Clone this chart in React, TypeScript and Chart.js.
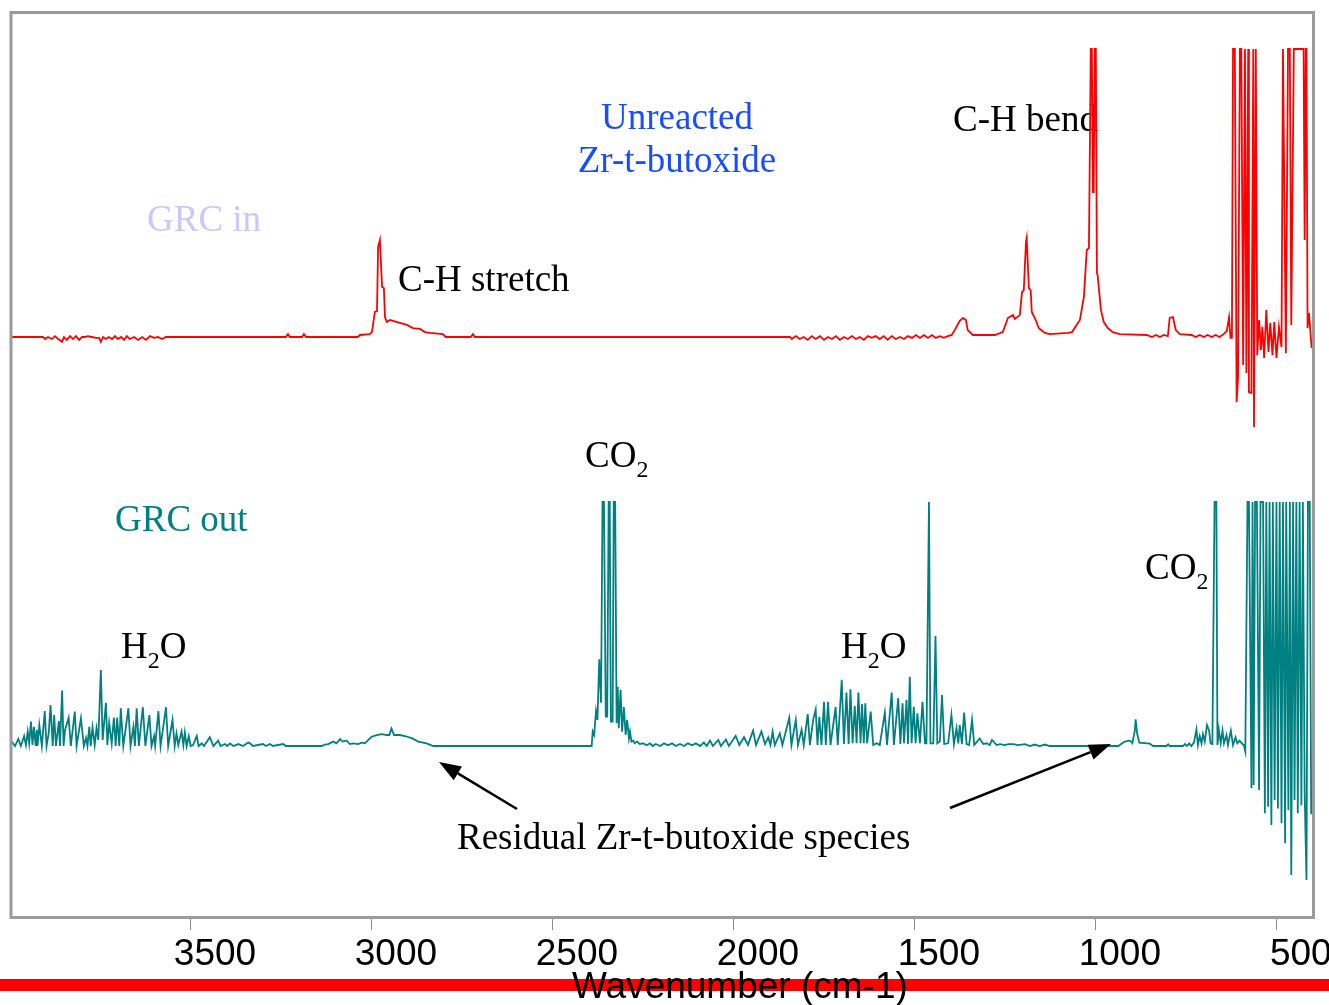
import { useEffect, useRef } from "react";
import { Chart, registerables } from "chart.js";

Chart.register(...registerables);

// x axis (wavenumber, cm-1), reversed
const xMin = 400;
const xMax = 4000;
const tickValues = [3500, 3000, 2500, 2000, 1500, 1000, 500];

// GRC in spectrum: [wavenumber, absorbance (offset trace, 1 = clipped top)]
const grcIn: [number, number][] = [
  [4000, 0], [3909, 0], [3903, -0.007], [3895, 0], [3884, -0.007], [3876, 0.003], [3867, -0.007], [3856, -0.017],
  [3851, 0], [3843, -0.01], [3834, 0.003], [3826, -0.007], [3818, 0.003], [3809, -0.01], [3801, 0], [3793, 0],
  [3785, 0.003], [3774, 0], [3762, -0.003], [3754, -0.003], [3749, -0.017], [3743, 0], [3735, -0.007], [3727, 0],
  [3718, -0.007], [3710, 0.003], [3702, -0.007], [3693, 0], [3685, -0.01], [3677, 0.003], [3669, -0.007], [3657, 0],
  [3646, -0.01], [3635, 0], [3624, -0.01], [3613, 0.003], [3602, -0.003], [3591, 0], [3580, -0.007], [3569, 0],
  [3238, 0], [3232, 0.01], [3227, 0], [3193, 0], [3188, 0.01], [3182, 0], [3039, 0], [3033, 0.007], [3006, 0.01],
  [3000, 0.017], [2992, 0.087], [2986, 0.09], [2983, 0.313], [2978, 0.337], [2972, 0.174], [2967, 0.17], [2964, 0.069],
  [2959, 0.052], [2950, 0.059], [2942, 0.056], [2923, 0.049], [2903, 0.042], [2887, 0.031], [2867, 0.028], [2854, 0.017],
  [2840, 0.014], [2804, 0.01], [2796, 0], [2727, 0], [2721, 0.01], [2716, 0], [1845, 0],
  [1840, -0.007], [1829, 0.003], [1818, -0.007], [1807, 0], [1796, -0.01], [1785, 0.003], [1774, -0.007], [1762, 0.003],
  [1751, -0.01], [1740, 0], [1729, -0.007], [1718, 0.003], [1707, -0.01], [1696, 0], [1685, -0.007], [1674, 0.003],
  [1663, -0.007], [1652, 0], [1641, -0.01], [1630, 0.003], [1619, -0.003], [1608, 0.003], [1597, -0.007], [1586, 0.003],
  [1575, -0.01], [1564, 0.003], [1553, -0.007], [1541, 0], [1530, -0.007], [1519, 0.003], [1508, -0.003], [1497, 0.007],
  [1486, -0.003], [1475, 0.007], [1464, -0.003], [1453, 0.007], [1442, -0.003], [1431, 0.003], [1420, -0.003], [1409, 0.003],
  [1398, 0.007], [1390, 0.024], [1376, 0.056], [1367, 0.066], [1359, 0.059], [1354, 0.024], [1340, 0.007], [1279, 0.007],
  [1257, 0.017], [1243, 0.066], [1229, 0.076], [1224, 0.063], [1210, 0.076], [1204, 0.156], [1199, 0.163], [1193, 0.33],
  [1191, 0.344], [1185, 0.17], [1180, 0.163], [1177, 0.087], [1166, 0.059], [1158, 0.031], [1141, 0.014], [1127, 0.01],
  [1077, 0.014], [1066, 0.017], [1044, 0.059], [1033, 0.139], [1025, 0.302], [1019, 0.309], [1014, 1], [1011, 1],
  [1008, 0.503], [1006, 0.503], [1003, 1], [1000, 1], [997, 0.222], [995, 0.215], [986, 0.094], [978, 0.052],
  [967, 0.031], [953, 0.017], [934, 0.01], [859, 0.007], [845, 0], [834, 0.007], [823, 0], [812, 0.007], [801, 0.003],
  [796, 0.066], [787, 0.069], [779, 0.024], [768, 0.01], [735, 0.007], [724, 0], [713, 0.007], [702, 0], [691, 0.007],
  [680, 0], [669, 0.007], [658, 0], [647, 0.01], [638, 0.021], [632, 0.069], [628, -0.003], [624, -0.003], [621, 1],
  [616, 1], [611, -0.226], [607, -0.139], [602, 1], [598, 1], [593, -0.097], [588, 1], [584, -0.125], [579, 1],
  [577, -0.191], [570, -0.194], [565, 1], [563, -0.313], [558, 1], [554, -0.063], [549, 0.059], [544, -0.045],
  [540, 0.035], [535, -0.073], [529, 0.094], [523, -0.052], [518, 0.049], [512, -0.063], [507, 0.052], [501, -0.073],
  [494, 0.035], [487, -0.035], [483, 1], [475, -0.056], [469, 1], [464, 1], [460, 0.042], [453, 1], [426, 1],
  [423, 0.337], [420, 1], [418, 1], [415, 0.031], [411, 0.083], [404, -0.035], [400, -0.035],
];

// GRC out spectrum: [wavenumber, absorbance (offset trace, 1 = clipped top)]
const grcOut: [number, number][] = [
  [4000, 0.01], [3995, 0.018], [3986, 0], [3977, 0.029], [3970, 0], [3961, 0.041], [3956, 0.004], [3951, 0.059],
  [3947, 0.011], [3942, 0.1], [3938, 0.004], [3934, 0.079], [3929, 0], [3926, 0.066], [3924, 0], [3919, 0.086],
  [3912, 0], [3904, 0.143], [3899, 0], [3893, 0.053], [3888, 0.168], [3882, 0], [3878, 0.127], [3873, 0],
  [3865, 0.102], [3862, 0], [3856, 0.227], [3852, 0], [3848, 0.066], [3838, 0.116], [3832, 0], [3821, 0.141],
  [3816, 0], [3804, 0.114], [3796, 0], [3790, 0.033], [3786, 0], [3781, 0.079], [3777, 0], [3772, 0.077],
  [3766, 0.004], [3761, 0.073], [3756, 0.025], [3749, 0.311], [3744, 0.025], [3735, 0.177], [3731, 0.004], [3726, 0.095],
  [3719, 0.011], [3713, 0.116], [3708, 0], [3704, 0.116], [3698, 0], [3694, 0.155], [3687, 0], [3682, 0.053],
  [3673, 0.155], [3667, 0], [3659, 0.079], [3655, 0], [3650, 0.155], [3644, 0], [3633, 0.159], [3626, 0],
  [3615, 0.127], [3609, 0], [3602, 0.041], [3599, 0], [3590, 0.143], [3584, 0], [3569, 0.159], [3563, 0],
  [3551, 0.107], [3545, 0], [3540, 0.052], [3535, 0.004], [3526, 0.059], [3521, 0.004], [3517, 0.055], [3512, 0],
  [3506, 0.041], [3501, 0], [3494, 0.004], [3484, 0.041], [3479, 0], [3470, 0.011], [3464, 0], [3448, 0.036],
  [3438, 0], [3425, 0.022], [3418, 0], [3406, 0.008], [3400, 0], [3392, 0.011], [3383, 0], [3369, 0.008],
  [3356, 0], [3342, 0.014], [3337, 0.011], [3329, 0], [3301, 0.008], [3293, 0], [3282, 0.008], [3274, 0],
  [3245, 0.008], [3238, 0], [3139, 0], [3130, 0.006], [3121, 0.008], [3107, 0.018], [3098, 0.011], [3088, 0.028],
  [3081, 0.018], [3070, 0.022], [3061, 0.008], [3052, 0.011], [3038, 0.008], [3028, 0.014], [3019, 0.011], [3010, 0.025],
  [3001, 0.038], [2987, 0.045], [2973, 0.049], [2959, 0.045], [2952, 0.045], [2946, 0.072], [2939, 0.045], [2923, 0.045],
  [2909, 0.041], [2890, 0.032], [2872, 0.018], [2849, 0.011], [2831, 0], [2393, 0], [2390, 0.059], [2386, 0.045],
  [2381, 0.143], [2377, 0.107], [2372, 0.355], [2367, 0.177], [2363, 1], [2359, 1], [2354, 0.12], [2350, 0.12],
  [2346, 1], [2343, 1], [2340, 0.1], [2335, 0.1], [2332, 1], [2328, 1], [2324, 0.093], [2321, 0.243],
  [2318, 0.073], [2313, 0.23], [2309, 0.059], [2304, 0.16], [2299, 0.045], [2295, 0.107], [2290, 0.031], [2287, 0.059],
  [2283, 0.018], [2278, 0.022], [2274, 0.011], [2267, 0.018], [2260, 0.008], [2251, 0.011], [2241, 0.003], [2232, 0.011],
  [2224, 0], [2216, 0.008], [2204, 0], [2193, 0.011], [2182, 0.003], [2171, 0.011], [2160, 0], [2149, 0.008],
  [2138, 0], [2127, 0.011], [2116, 0.003], [2105, 0.011], [2094, 0], [2083, 0.014], [2075, 0], [2066, 0.022],
  [2058, 0], [2043, 0.025], [2036, 0], [2022, 0.027], [2014, 0], [1995, 0.041], [1985, 0.004], [1972, 0.036],
  [1961, 0.004], [1947, 0.063], [1939, 0.004], [1924, 0.059], [1914, 0.008], [1905, 0.036], [1899, 0.004], [1893, 0.059],
  [1887, 0.004], [1873, 0.052], [1866, 0.004], [1847, 0.116], [1841, 0.004], [1829, 0.107], [1823, 0.004], [1813, 0.066],
  [1807, 0.004], [1796, 0.131], [1790, 0.004], [1781, 0.107], [1774, 0.15], [1769, 0.004], [1764, 0.12], [1758, 0.004],
  [1751, 0.181], [1746, 0.004], [1740, 0.181], [1733, 0.004], [1719, 0.16], [1713, 0.004], [1702, 0.271], [1696, 0.008],
  [1689, 0.219], [1683, 0.008], [1678, 0.232], [1672, 0.011], [1666, 0.164], [1661, 0.011], [1656, 0.219], [1650, 0.011],
  [1646, 0.172], [1641, 0.011], [1637, 0.175], [1632, 0.011], [1622, 0.141], [1615, 0.004], [1606, 0.011], [1597, 0.004],
  [1583, 0.137], [1577, 0.004], [1564, 0.219], [1558, 0.004], [1546, 0.196], [1540, 0.008], [1534, 0.175], [1530, 0.011],
  [1523, 0.189], [1519, 0.008], [1514, 0.284], [1509, 0.011], [1503, 0.161], [1498, 0.011], [1493, 0.134], [1486, 0.011],
  [1479, 0.181], [1472, 0.011], [1468, 0.011], [1461, 1], [1457, 0.011], [1449, 0.011], [1443, 0.451], [1438, 0.011],
  [1431, 0.018], [1425, 0.209], [1419, 0.008], [1408, 0.011], [1399, 0.127], [1392, 0.008], [1385, 0.073], [1380, 0.011],
  [1376, 0.086], [1370, 0.008], [1364, 0.137], [1357, 0.008], [1350, 0.004], [1342, 0.107], [1336, 0.004], [1321, 0.031],
  [1311, 0.008], [1302, 0.011], [1293, 0.004], [1287, 0.025], [1274, 0.004], [1265, 0.008], [1251, 0.004], [1242, 0.008],
  [1228, 0.008], [1215, 0.004], [1196, 0.008], [1182, 0], [1169, 0.006], [1155, 0], [1141, 0.006], [1127, 0],
  [938, 0], [920, 0.018], [906, 0.022], [899, 0.012], [892, 0.066], [890, 0.109], [886, 0.052], [880, 0.014],
  [851, 0.01], [842, 0], [805, 0], [800, 0.007], [796, 0], [759, 0], [754, 0.008], [748, 0],
  [742, 0.011], [736, 0], [729, 0.014], [722, 0.068], [718, 0.004], [713, 0.041], [708, 0.011], [704, 0.049],
  [699, 0.018], [693, 0.086], [687, 0.063], [683, 0.011], [678, 0.008], [672, 1], [667, 1], [664, 0.004],
  [660, 0.066], [655, 0.011], [650, 0.063], [646, 0.011], [639, 0.045], [635, 0.004], [627, 0.063], [621, 0.004],
  [614, 0.036], [609, 0.011], [603, 0.022], [595, 0.008], [591, 0.004], [587, -0.023], [581, 1], [577, 1],
  [570, -0.173], [567, 1], [564, -0.16], [560, 1], [555, 1], [549, -0.18], [545, 1], [538, 1],
  [533, -0.276], [529, 1], [524, -0.249], [520, 1], [515, -0.324], [511, 1], [506, -0.221], [501, 1],
  [497, -0.256], [492, 1], [487, -0.317], [483, 1], [477, -0.399], [474, 1], [468, -0.262], [464, 1],
  [460, -0.529], [455, 1], [451, -0.221], [446, 1], [442, -0.276], [437, 1], [432, -0.244], [428, 1],
  [423, -0.194], [418, -0.549], [414, 1], [409, 1], [405, -0.276], [401, -0.276],
];

const serif = "'Liberation Serif', 'Times New Roman', serif";
const sans = "'Liberation Sans', Arial, sans-serif";

type Part = [string, boolean];

function drawParts(ctx: CanvasRenderingContext2D, parts: Part[], x: number, y: number, color: string) {
  let cx = x;
  ctx.fillStyle = color;
  ctx.textAlign = "left";
  ctx.textBaseline = "alphabetic";
  for (const [t, sub] of parts) {
    ctx.font = sub ? `24px ${serif}` : `37px ${serif}`;
    ctx.fillText(t, cx, sub ? y + 10 : y);
    cx += ctx.measureText(t).width;
  }
}

function drawArrow(ctx: CanvasRenderingContext2D, x1: number, y1: number, x2: number, y2: number) {
  const ang = Math.atan2(y2 - y1, x2 - x1);
  const L = 22;
  const W = 8;
  const bx = x2 - L * Math.cos(ang);
  const by = y2 - L * Math.sin(ang);
  ctx.strokeStyle = "#000";
  ctx.fillStyle = "#000";
  ctx.lineWidth = 2.5;
  ctx.beginPath();
  ctx.moveTo(x1, y1);
  ctx.lineTo(bx, by);
  ctx.stroke();
  ctx.beginPath();
  ctx.moveTo(x2, y2);
  ctx.lineTo(bx - W * Math.sin(ang), by + W * Math.cos(ang));
  ctx.lineTo(bx + W * Math.sin(ang), by - W * Math.cos(ang));
  ctx.closePath();
  ctx.fill();
}

const decorPlugin = {
  id: "decor",
  beforeDatasetsDraw(chart: any) {
    const ctx: CanvasRenderingContext2D = chart.ctx;
    ctx.save();
    ctx.textBaseline = "alphabetic";
    ctx.font = `37px ${serif}`;
    ctx.textAlign = "center";
    ctx.fillStyle = "#1a4cff";
    ctx.fillText("Unreacted", 677, 129);
    ctx.fillText("Zr-t-butoxide", 677, 172);
    drawParts(ctx, [["GRC in", false]], 147, 231, "#c8c8ff");
    drawParts(ctx, [["C-H stretch", false]], 398, 291, "#000");
    drawParts(ctx, [["C-H bend", false]], 953, 131, "#000");
    drawParts(ctx, [["CO", false], ["2", true]], 585, 467, "#000");
    drawParts(ctx, [["GRC out", false]], 115, 531, "#008080");
    drawParts(ctx, [["H", false], ["2", true], ["O", false]], 121, 658, "#000");
    drawParts(ctx, [["H", false], ["2", true], ["O", false]], 841, 658, "#000");
    drawParts(ctx, [["CO", false], ["2", true]], 1145, 579, "#000");
    drawParts(ctx, [["Residual Zr-t-butoxide species", false]], 457, 849, "#000");
    ctx.restore();
  },
  afterDraw(chart: any) {
    const ctx: CanvasRenderingContext2D = chart.ctx;
    ctx.save();
    // frame
    ctx.strokeStyle = "#9b9b9b";
    ctx.lineWidth = 3;
    ctx.strokeRect(11, 12.5, 1302.5, 905);
    // red band
    ctx.fillStyle = "#ff0000";
    ctx.fillRect(0, 979, 1329, 12);
    // axis title
    ctx.fillStyle = "#000";
    ctx.font = `37px ${sans}`;
    ctx.textAlign = "left";
    ctx.textBaseline = "alphabetic";
    ctx.fillText("Wavenumber (cm-1)", 572, 998);
    // arrows
    drawArrow(ctx, 517, 809, 439, 762);
    drawArrow(ctx, 950, 808, 1111, 744);
    ctx.restore();
  },
};

export default function App() {
  const canvasRef = useRef<HTMLCanvasElement | null>(null);

  useEffect(() => {
    const canvas = canvasRef.current;
    if (!canvas) return;
    const chart = new Chart(canvas, {
      type: "line",
      data: {
        datasets: [
          {
            label: "GRC in",
            data: grcIn.map(([x, y]) => ({ x, y })),
            borderColor: "#ff0000",
            borderWidth: 1.8,
            pointRadius: 0,
            tension: 0,
            fill: false,
            yAxisID: "yIn",
          },
          {
            label: "GRC out",
            data: grcOut.map(([x, y]) => ({ x, y })),
            borderColor: "#008080",
            borderWidth: 1.8,
            pointRadius: 0,
            tension: 0,
            fill: false,
            yAxisID: "yOut",
          },
        ],
      },
      options: {
        responsive: false,
        animation: false,
        devicePixelRatio: 1,
        layout: { padding: { left: 10, right: 16, top: 12, bottom: 0 } },
        plugins: { legend: { display: false }, tooltip: { enabled: false }, title: { display: false } },
        scales: {
          x: {
            type: "linear",
            min: xMin,
            max: xMax,
            reverse: true,
            afterBuildTicks: (axis: any) => {
              axis.ticks = tickValues.map((value) => ({ value }));
            },
            afterFit: (axis: any) => {
              axis.height = 88;
            },
            grid: {
              display: true,
              drawOnChartArea: false,
              drawTicks: true,
              tickLength: 13,
              color: "#8c8c8c",
              lineWidth: 1,
            },
            border: { display: false },
            ticks: {
              autoSkip: false,
              maxRotation: 0,
              minRotation: 0,
              padding: 3,
              labelOffset: 24,
              color: "#000",
              font: { family: sans, size: 37 },
              callback: (v: any) => String(v),
            },
          },
          yIn: { display: false, min: -2.0139, max: 1.1285 },
          yOut: { display: false, min: -0.7008, max: 3.0082 },
        },
      },
      plugins: [decorPlugin],
    } as any);
    return () => chart.destroy();
  }, []);

  return (
    <div style={{ position: "absolute", left: 0, top: 0, width: 1329, height: 1005, background: "#fff" }}>
      <canvas ref={canvasRef} width={1329} height={1005} style={{ display: "block" }} />
    </div>
  );
}
